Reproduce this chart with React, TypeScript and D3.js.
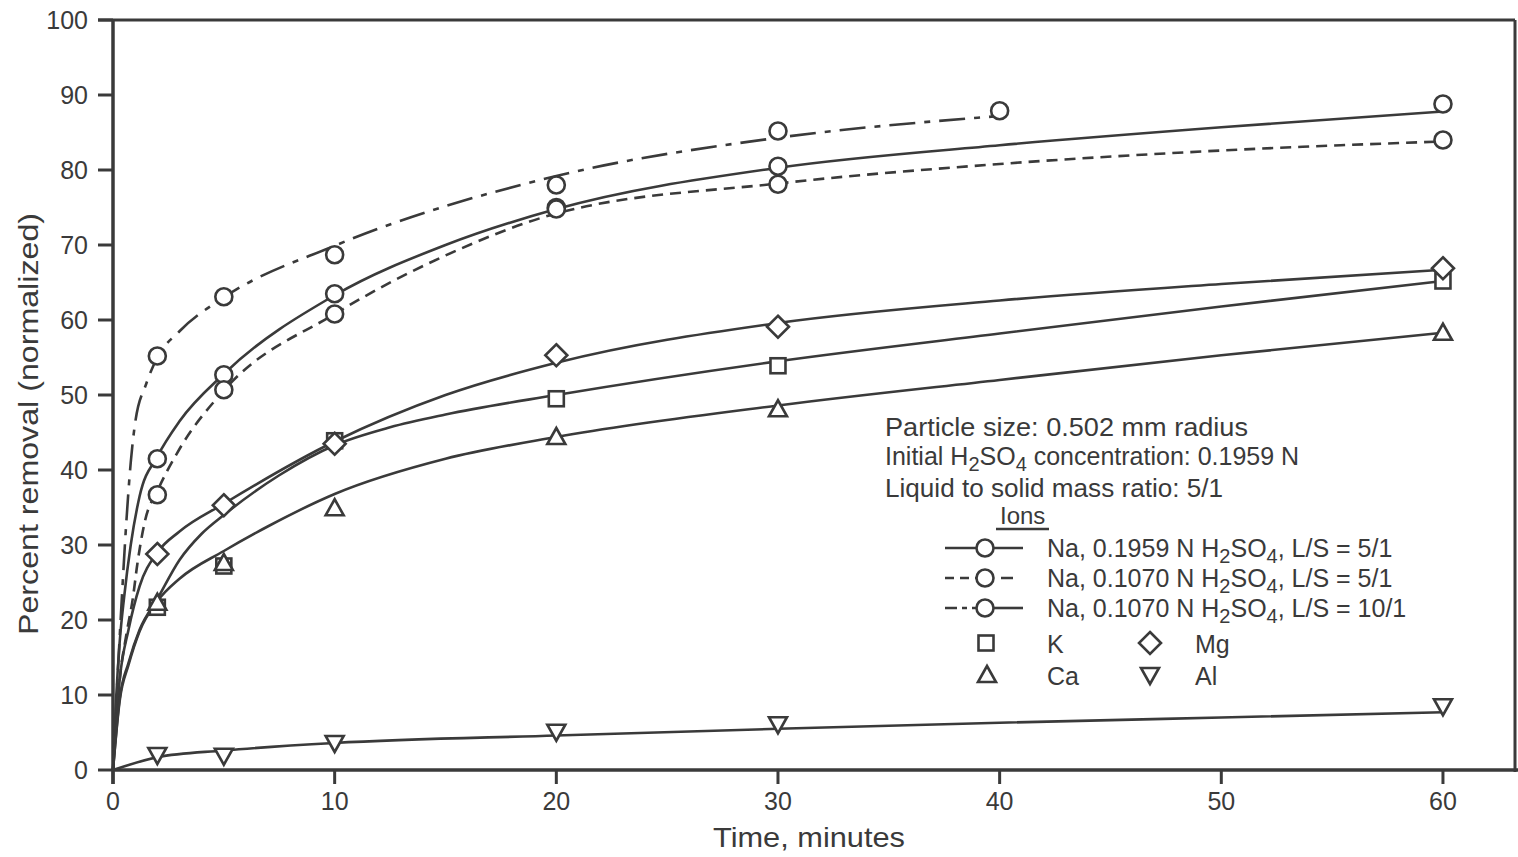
import React from "react";
import * as d3 from "d3";

type P = [number, number];

// Observed data (minutes, percent removal)
const timeA = [2, 5, 10, 20, 30, 60];
const timeB = [2, 5, 10, 20, 30, 40];
const naStrong5Obs = [41.5, 52.7, 63.5, 75.0, 80.5, 88.8];
const naWeak5Obs = [36.7, 50.7, 60.8, 74.8, 78.1, 84.0];
const naWeak10Obs = [55.2, 63.1, 68.7, 78.0, 85.2, 87.9];
const kObs = [21.7, 27.2, 43.9, 49.5, 53.9, 65.2];
const mgObs = [28.8, 35.3, 43.5, 55.3, 59.1, 66.9];
const caObs = [22.3, 27.6, 34.9, 44.4, 48.1, 58.3];
const alObs = [2.0, 1.9, 3.6, 5.1, 6.1, 8.5];

// Hand-drawn fitted curves
const naStrong5Fit: P[] = [[0, 0], [0.15, 10], [0.3, 17], [0.5, 23], [0.8, 30], [1.2, 36.5], [2, 41.8], [3, 46.5], [5, 52.8], [10, 63.3], [15, 70], [20, 74.8], [30, 80.3], [40, 83.3], [50, 85.7], [60, 87.8]];
const naWeak5Fit: P[] = [[0, 0], [0.3, 12], [0.6, 18], [0.9, 23], [1.1, 27.5], [1.45, 33.3], [2, 37.2], [3, 42.8], [5, 50.6], [10, 60.8], [15, 68.6], [20, 74.2], [30, 78.2], [40, 80.8], [50, 82.6], [60, 83.8]];
const naWeak10Fit: P[] = [[0, 0], [0.2, 12], [0.4, 23], [0.6, 33], [0.8, 41], [1, 46.3], [1.5, 51.5], [2, 55], [3, 58.5], [5, 63], [10, 69.9], [20, 79.2], [30, 84.3], [40, 87.2]];
const mgFit: P[] = [[0, 0], [0.3, 12], [0.7, 18.7], [1.2, 24.5], [2, 29], [3, 31.8], [5, 35.5], [10, 43.8], [15, 50], [20, 54.3], [30, 59.6], [40, 62.6], [50, 64.8], [60, 66.7]];
const kFit: P[] = [[0, 0], [0.3, 9.5], [0.7, 14.3], [1.2, 18.7], [2, 22.8], [3, 28], [4, 31.5], [5, 34], [7.5, 39.3], [10, 43.3], [12.5, 45.7], [15, 47.4], [20, 50], [30, 54.5], [40, 58.2], [50, 61.8], [60, 65.2]];
const caFit: P[] = [[0, 0], [0.3, 9.2], [0.7, 14], [1.2, 18.5], [2, 22.5], [3, 25.5], [5, 29.2], [7, 32.5], [10, 36.8], [15, 41.5], [20, 44.4], [30, 48.6], [40, 52], [50, 55.3], [60, 58.3]];
const alFit: P[] = [[0, 0], [2, 1.7], [5, 2.6], [10, 3.6], [20, 4.6], [30, 5.5], [40, 6.3], [50, 7.0], [60, 7.7]];

const yTicks = [0, 10, 20, 30, 40, 50, 60, 70, 80, 90, 100];
const xTicks = [0, 10, 20, 30, 40, 50, 60];

const INK = "#3a3a3a";
const FONT = "'Liberation Sans', Arial, sans-serif";

const zip = (t: number[], v: number[]): P[] => t.map((d, i) => [d, v[i]]);

function Marker({ kind, cx, cy }: { kind: string; cx: number; cy: number }) {
  const common = { fill: "white", stroke: INK, strokeWidth: 2.6 };
  if (kind === "circle") return <circle cx={cx} cy={cy} r={8.5} {...common} />;
  if (kind === "square") return <rect x={cx - 7.5} y={cy - 7.5} width={15} height={15} {...common} />;
  if (kind === "diamond")
    return <path d={`M${cx},${cy - 11}L${cx + 11},${cy}L${cx},${cy + 11}L${cx - 11},${cy}Z`} {...common} />;
  if (kind === "up")
    return <path d={`M${cx},${cy - 9}L${cx + 9},${cy + 7}L${cx - 9},${cy + 7}Z`} {...common} />;
  return <path d={`M${cx - 9},${cy - 7}L${cx + 9},${cy - 7}L${cx},${cy + 9}Z`} {...common} />;
}

export default function App() {
  const x = d3.scaleLinear().domain([0, 63.25]).range([113, 1515]);
  const y = d3.scaleLinear().domain([0, 100]).range([770, 20]);
  const line = d3
    .line<P>()
    .x((d) => x(d[0]))
    .y((d) => y(d[1]))
    .curve(d3.curveMonotoneX);

  const curves = [
    { d: naStrong5Fit, dash: undefined },
    { d: naWeak5Fit, dash: "11,7" },
    { d: naWeak10Fit, dash: "26,9,6,9" },
    { d: mgFit, dash: undefined },
    { d: kFit, dash: undefined },
    { d: caFit, dash: undefined },
    { d: alFit, dash: undefined },
  ];

  const points = [
    { pts: zip(timeA, naStrong5Obs), kind: "circle" },
    { pts: zip(timeA, naWeak5Obs), kind: "circle" },
    { pts: zip(timeB, naWeak10Obs), kind: "circle" },
    { pts: zip(timeA, kObs), kind: "square" },
    { pts: zip(timeA, mgObs), kind: "diamond" },
    { pts: zip(timeA, caObs), kind: "up" },
    { pts: zip(timeA, alObs), kind: "down" },
  ];

  const sub = (s: string) => (
    <tspan dy={6} fontSize={20}>
      {s}
    </tspan>
  );

  const legendRow = (yy: number, label: React.ReactNode, variant: number) => (
    <g>
      {variant === 0 && <line x1={945} x2={1023} y1={yy} y2={yy} stroke={INK} strokeWidth={2.6} />}
      {variant === 1 && (
        <>
          <line x1={945} x2={978} y1={yy} y2={yy} stroke={INK} strokeWidth={2.6} strokeDasharray="9,6" />
          <line x1={993} x2={1023} y1={yy} y2={yy} stroke={INK} strokeWidth={2.6} strokeDasharray="0,8,12,20" />
        </>
      )}
      {variant === 2 && (
        <>
          <line x1={945} x2={978} y1={yy} y2={yy} stroke={INK} strokeWidth={2.6} strokeDasharray="12,5,5,5" />
          <line x1={993} x2={1023} y1={yy} y2={yy} stroke={INK} strokeWidth={2.6} />
        </>
      )}
      <Marker kind="circle" cx={985} cy={yy} />
      <text x={1047} y={yy + 9} fontSize={25} fill={INK} fontFamily={FONT}>
        {label}
      </text>
    </g>
  );

  return (
    <svg
      width={1518}
      height={857}
      style={{ position: "absolute", left: 0, top: 0, display: "block", background: "white" }}
    >
      {/* frame */}
      <line x1={98} x2={1515} y1={20} y2={20} stroke={INK} strokeWidth={3} />
      <line x1={1515} x2={1515} y1={20} y2={772} stroke={INK} strokeWidth={3} />
      <line x1={113} x2={1518} y1={770} y2={770} stroke={INK} strokeWidth={3.5} />
      <line x1={113} x2={113} y1={20} y2={784} stroke={INK} strokeWidth={3.5} />

      {/* y ticks */}
      {yTicks.map((t) => (
        <g key={"y" + t}>
          <line x1={98} x2={113} y1={y(t)} y2={y(t)} stroke={INK} strokeWidth={3} />
          <text x={88} y={y(t) + 9} textAnchor="end" fontSize={25} fill={INK} fontFamily={FONT}>
            {t}
          </text>
        </g>
      ))}
      {/* x ticks */}
      {xTicks.map((t) => (
        <g key={"x" + t}>
          <line x1={x(t)} x2={x(t)} y1={770} y2={784} stroke={INK} strokeWidth={3} />
          <text x={x(t)} y={810} textAnchor="middle" fontSize={25} fill={INK} fontFamily={FONT}>
            {t}
          </text>
        </g>
      ))}

      {/* axis titles */}
      <text x={809} y={847} textAnchor="middle" fontSize={28} fill={INK} fontFamily={FONT} textLength={192} lengthAdjust="spacingAndGlyphs">
        Time, minutes
      </text>
      <text
        transform="translate(38,424) rotate(-90)"
        textAnchor="middle"
        fontSize={28}
        fill={INK}
        fontFamily={FONT}
        textLength={422}
        lengthAdjust="spacingAndGlyphs"
      >
        Percent removal (normalized)
      </text>

      {/* fitted curves */}
      {curves.map((c, i) => (
        <path key={"c" + i} d={line(c.d) || ""} fill="none" stroke={INK} strokeWidth={2.6} strokeDasharray={c.dash} />
      ))}

      {/* data markers */}
      {points.map((s, i) =>
        s.pts.map((p, j) => <Marker key={`m${i}-${j}`} kind={s.kind} cx={x(p[0])} cy={y(p[1])} />)
      )}

      {/* annotation */}
      <text x={885} y={436} fontSize={25} fill={INK} fontFamily={FONT} textLength={363} lengthAdjust="spacingAndGlyphs">
        Particle size: 0.502 mm radius
      </text>
      <text x={885} y={465} fontSize={25} fill={INK} fontFamily={FONT}>
        Initial H{sub("2")}
        <tspan dy={-6}>SO</tspan>
        {sub("4")}
        <tspan dy={-6}> concentration: 0.1959 N</tspan>
      </text>
      <text x={885} y={497} fontSize={25} fill={INK} fontFamily={FONT} textLength={338} lengthAdjust="spacingAndGlyphs">
        Liquid to solid mass ratio: 5/1
      </text>
      <text x={1000} y={524} fontSize={24} fill={INK} fontFamily={FONT}>
        Ions
      </text>
      <line x1={996} x2={1049} y1={529} y2={529} stroke={INK} strokeWidth={2.4} />

      {legendRow(
        548,
        <>
          Na, 0.1959 N H{sub("2")}
          <tspan dy={-6}>SO</tspan>
          {sub("4")}
          <tspan dy={-6}>, L/S = 5/1</tspan>
        </>,
        0
      )}
      {legendRow(
        578,
        <>
          Na, 0.1070 N H{sub("2")}
          <tspan dy={-6}>SO</tspan>
          {sub("4")}
          <tspan dy={-6}>, L/S = 5/1</tspan>
        </>,
        1
      )}
      {legendRow(
        608,
        <>
          Na, 0.1070 N H{sub("2")}
          <tspan dy={-6}>SO</tspan>
          {sub("4")}
          <tspan dy={-6}>, L/S = 10/1</tspan>
        </>,
        2
      )}

      <Marker kind="square" cx={986} cy={643} />
      <text x={1047} y={653} fontSize={25} fill={INK} fontFamily={FONT}>K</text>
      <Marker kind="diamond" cx={1150} cy={643} />
      <text x={1195} y={653} fontSize={25} fill={INK} fontFamily={FONT}>Mg</text>
      <Marker kind="up" cx={987} cy={675} />
      <text x={1047} y={685} fontSize={25} fill={INK} fontFamily={FONT}>Ca</text>
      <Marker kind="down" cx={1150} cy={675} />
      <text x={1195} y={685} fontSize={25} fill={INK} fontFamily={FONT}>Al</text>
    </svg>
  );
}
